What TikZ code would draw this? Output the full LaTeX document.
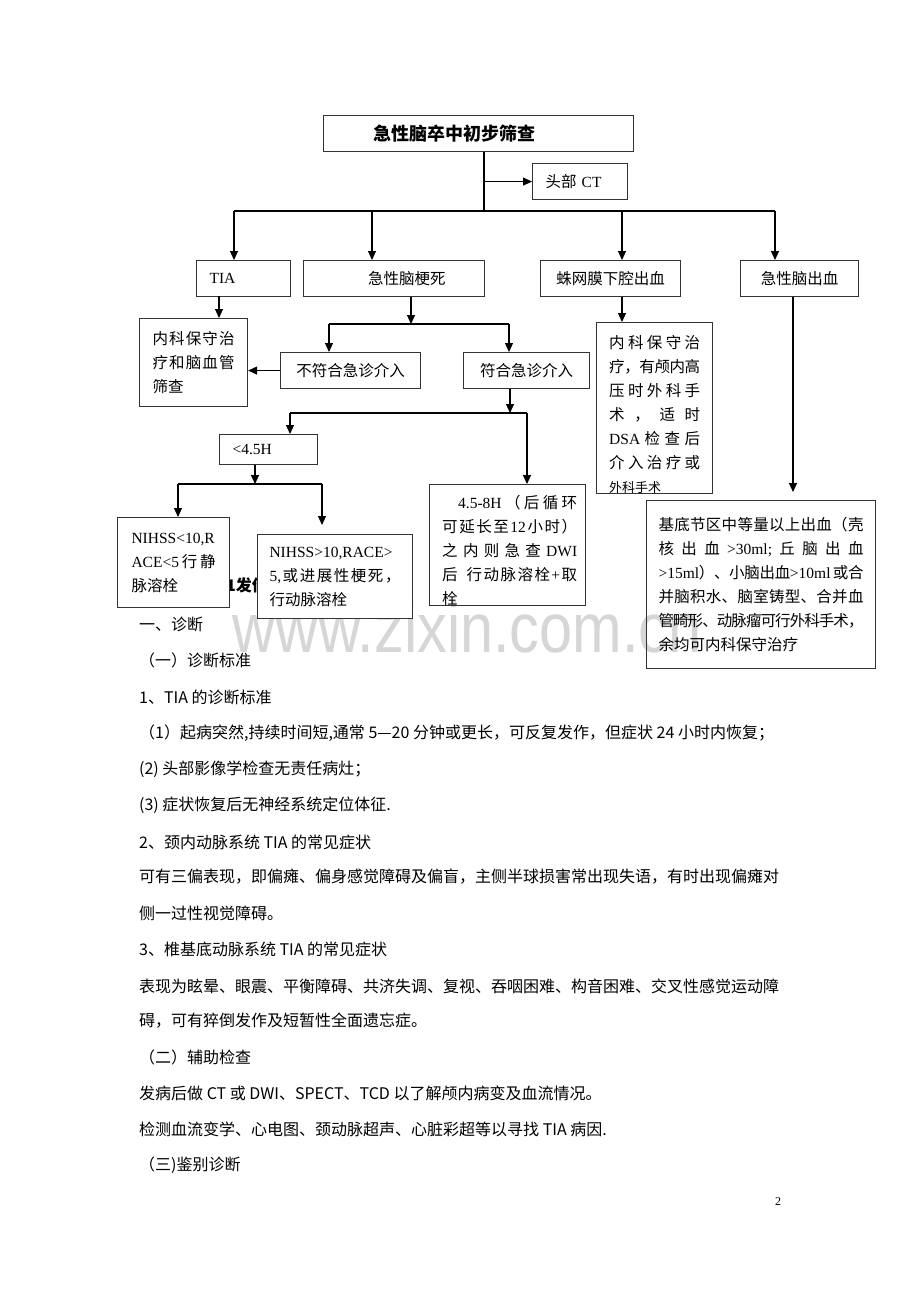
\documentclass[tikz,border=0pt]{standalone}
\usepackage{fontspec}
\setmainfont{Liberation Serif}
\newfontfamily\cjk{Noto Sans CJK SC}
\newfontfamily\wmfont[FakeStretch=0.85]{Liberation Sans}
\usetikzlibrary{arrows.meta}
\newcommand{\en}[1]{{\rmfamily #1}}
% spread one line of a box over its width
\newcommand{\jl}[1]{\makebox[\linewidth][s]{\jlfirst#1\relax}}
\newcommand{\jlfirst}[1]{#1\jlrest}
\newcommand{\jlrest}[1]{\ifx\relax#1\else\hspace{0pt plus 1fil minus 1.5pt}#1\expandafter\jlrest\fi}
\newcommand{\boxfont}{\cjk\fontsize{15.5}{24}\selectfont}
\tikzstyle{flowbox}=[rectangle, draw=black!80, line width=1.1pt, anchor=north west, inner sep=0pt, minimum height=36pt, font=\boxfont]
\tikzstyle{headbox}=[flowbox, font=\cjk\bfseries\fontsize{18}{18}\selectfont]
\tikzstyle{boxtext}=[anchor=north west, inner sep=0pt, align=left, font=\boxfont]
\tikzstyle{bodyline}=[anchor=west, inner sep=0pt, font=\cjk\fontsize{16}{16}\selectfont]
\tikzstyle{wmtext}=[anchor=base west, inner sep=0pt, text=black!16, font=\wmfont\fontsize{70}{70}\selectfont]
\tikzstyle{peektext}=[anchor=west, inner sep=0pt, font=\cjk\bfseries\fontsize{16}{16}\selectfont]
\tikzstyle{link}=[line width=1.1pt]
\tikzstyle{arr}=[-{Triangle[length=9pt,width=8pt]}, line width=1.1pt]

\begin{document}
\begin{tikzpicture}[x=1pt, y=-1pt]
\useasboundingbox[fill=white] (0,0) rectangle (920,1302);

% watermark and the text behind the boxes
\node[wmtext] (wm) at (232,652) {www.zixin.com.cn};
\node[peektext] (caption) at (226,585) {1发作};

% flow chart
\node[headbox, minimum width=310pt, text width=210pt, align=left] (screen) at (323,115) {急性脑卒中初步筛查};
\node[flowbox, minimum width=95pt, text width=69pt, align=left] (ct) at (532,163) {头部 \en{CT}};
\node[flowbox, minimum width=94pt, text width=68pt, align=left] (tia) at (196,260) {\en{TIA}};
\node[flowbox, minimum width=181pt, text width=103pt, align=right] (infarct) at (303,260) {急性脑梗死};
\node[flowbox, minimum width=140pt] (sah) at (540,260) {蛛网膜下腔出血};
\node[flowbox, minimum width=118pt] (ich) at (740,260) {急性脑出血};
\node[flowbox, minimum width=108pt, minimum height=88pt, inner xsep=13pt, text width=82pt, align=left] (conservative) at (139,318)
  {\jl{内科保守治}\\\jl{疗和脑血管}\\筛查};
\node[flowbox, minimum width=140pt] (nonurgent) at (280,352) {不符合急诊介入};
\node[flowbox, minimum width=126pt] (urgent) at (463,352) {符合急诊介入};
\node[flowbox, minimum width=98pt, minimum height=30pt, text width=72pt, align=left] (lt45) at (219,434) {\en{<4.5H}};
\node[flowbox, fill=white, minimum width=112pt, minimum height=90pt, inner xsep=14pt, text width=84pt, align=left] (nihsslo) at (117,517)
  {\en{NIHSS<10,R}\\\jl{{\en{ACE<5}}行静}\\脉溶栓};
\node[flowbox, fill=white, minimum width=155pt, minimum height=84pt, inner xsep=12pt, text width=131pt, align=left] (nihsshi) at (257,534)
  {\en{NIHSS>10,RACE>}\\\jl{{\en{5,}}或进展性梗死，}\\行动脉溶栓};
\node[flowbox, minimum width=229pt, minimum height=168pt, inner xsep=12pt, text width=205pt, align=left] (bleed) at (646,500)
  {\jl{基底节区中等量以上出血（壳}\\
   \jl{核出血{\en{>30ml;}}丘脑出血}\\
   \jl{{\en{>15ml}}）、小脑出血{\en{>10ml}\,}或合}\\
   \jl{并脑积水、脑室铸型、合并血}\\
   \jl{管畸形、动脉瘤可行外科手术，}\\
   余均可内科保守治疗};
\node[flowbox, minimum width=116pt, minimum height=171pt] (surgery) at (596,322) {};
\node[flowbox, minimum width=156pt, minimum height=121pt] (late) at (429,484) {};

\begin{scope}
\clip (596,322) rectangle (712,493);
\node[boxtext, text width=91pt] (surgerytext) at (609,335)
  {\jl{内科保守治}\\
   \jl{疗，有颅内高}\\
   \jl{压时外科手}\\
   \jl{术，适时}\\
   \jl{{\en{DSA}}检查后}\\
   \jl{介入治疗或}\\
   {\fontsize{13}{13}\selectfont 外科手术}};
\end{scope}
\begin{scope}
\clip (429,484) rectangle (585,605);
\node[boxtext, text width=135pt] (latetext) at (442,495)
  {\jl{{\hspace*{16pt}\en{4.5-8H}}（后循环}\\
   \jl{可延长至{\en{12}}小时）}\\
   \jl{之内则急查{\en{DWI}}}\\
   \jl{后{\hspace*{6pt}}行动脉溶栓{\en{+}}取}\\
   栓};
\end{scope}

% junctions
\coordinate (hub) at (484,211);
\coordinate (busL) at (234,211);
\coordinate (busR) at (775,211);
\coordinate (dropB) at (372,211);
\coordinate (dropC) at (622,211);
\coordinate (tiaOut) at (219,296);
\coordinate (split1) at (411,324);
\coordinate (split1L) at (329,324);
\coordinate (split1R) at (509,324);
\coordinate (split2) at (510,413);
\coordinate (split2L) at (290,413);
\coordinate (split2R) at (527,413);
\coordinate (split3) at (255,484);
\coordinate (split3L) at (178,484);
\coordinate (split3R) at (322,484);
\coordinate (hiEnd) at (322,525);
\coordinate (ichEnd) at (793,492);

\draw[link] (screen.south -| hub) -- (hub);
\draw[arr] (hub |- ct.west) -- (ct.west);
\draw[link] (busL) -- (busR);
\draw[arr] (busL) -- (busL |- tia.north);
\draw[arr] (dropB) -- (dropB |- infarct.north);
\draw[arr] (dropC) -- (dropC |- sah.north);
\draw[arr] (busR) -- (busR |- ich.north);
\draw[arr] (tiaOut) -- (tiaOut |- conservative.north);
\draw[arr] (infarct.south -| split1) -- (split1);
\draw[link] (split1L) -- (split1R);
\draw[arr] (split1L) -- (split1L |- nonurgent.north);
\draw[arr] (split1R) -- (split1R |- urgent.north);
\draw[arr] (nonurgent.west) -- (nonurgent.west -| conservative.east);
\draw[arr] (urgent.south -| split2) -- (split2);
\draw[link] (split2L) -- (split2R);
\draw[arr] (split2L) -- (split2L |- lt45.north);
\draw[arr] (split2R) -- (split2R |- late.north);
\draw[arr] (lt45.south -| split3) -- (split3);
\draw[link] (split3L) -- (split3R);
\draw[arr] (split3L) -- (split3L |- nihsslo.north);
\draw[arr] (split3R) -- (hiEnd);
\draw[arr] (sah.south -| dropC) -- (surgery.north -| dropC);
\draw[arr] (ich.south -| ichEnd) -- (ichEnd);

% text of the page
\node[bodyline] (l1) at (139,624) {一、诊断};
\node[bodyline] (l2) at (139,660) {（一）诊断标准};
\node[bodyline] (l3) at (139,697) {1、TIA 的诊断标准};
\node[bodyline] (l4) at (139,733) {（1）起病突然,持续时间短,通常 5—20 分钟或更长，可反复发作，但症状 24 小时内恢复；};
\node[bodyline] (l5) at (139,769) {(2) 头部影像学检查无责任病灶；};
\node[bodyline] (l6) at (139,805) {(3) 症状恢复后无神经系统定位体征.};
\node[bodyline] (l7) at (139,842) {2、颈内动脉系统 TIA 的常见症状};
\node[bodyline] (l8) at (139,877) {可有三偏表现，即偏瘫、偏身感觉障碍及偏盲，主侧半球损害常出现失语，有时出现偏瘫对};
\node[bodyline] (l9) at (139,913) {侧一过性视觉障碍。};
\node[bodyline] (l10) at (139,949) {3、椎基底动脉系统 TIA 的常见症状};
\node[bodyline] (l11) at (139,986) {表现为眩晕、眼震、平衡障碍、共济失调、复视、吞咽困难、构音困难、交叉性感觉运动障};
\node[bodyline] (l12) at (139,1021) {碍，可有猝倒发作及短暂性全面遗忘症。};
\node[bodyline] (l13) at (139,1057) {（二）辅助检查};
\node[bodyline] (l14) at (139,1093) {发病后做 CT 或 DWI、SPECT、TCD 以了解颅内病变及血流情况。};
\node[bodyline] (l15) at (139,1129) {检测血流变学、心电图、颈动脉超声、心脏彩超等以寻找 TIA 病因.};
\node[bodyline] (l16) at (139,1165) {（三)鉴别诊断};
\node[font=\fontsize{12}{12}\selectfont, inner sep=0pt] (pagenum) at (778,1202) {2};

\end{tikzpicture}
\end{document}
